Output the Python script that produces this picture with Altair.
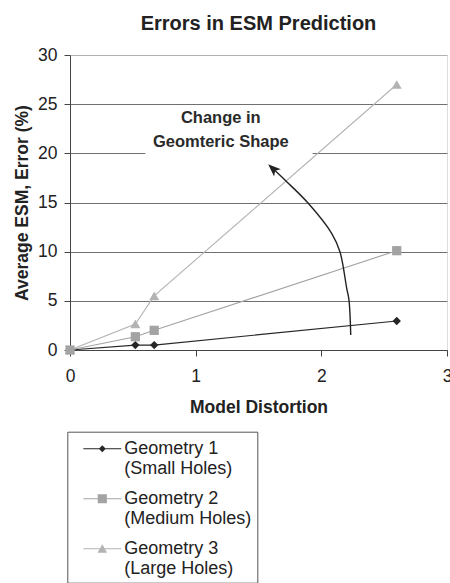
import altair as alt
import pandas as pd

# ---- data ----
distortion = [0, 0.52, 0.67, 2.6]
geom1 = [0, 0.5, 0.5, 2.95]
geom2 = [0, 1.35, 2.0, 10.1]
geom3 = [0, 2.65, 5.5, 27.0]

series_names = ["Geometry 1|(Small Holes)", "Geometry 2|(Medium Holes)", "Geometry 3|(Large Holes)"]
series_values = [geom1, geom2, geom3]
series_colors = ["#262626", "#a3a3a3", "#b3b3b3"]
marker_shapes = ["diamond", "square", "triangle-up"]
marker_sizes = [70, 85, 100]
draw_order = [0, 2, 1]

legend_symbols = [
    "M-1.58,-0.045H1.58V0.045H-1.58Z M0,-0.29L0.29,0L0,0.29L-0.29,0Z",
    "M-1.58,-0.045H1.58V0.045H-1.58Z M-0.38,-0.38H0.38V0.38H-0.38Z",
    "M-1.58,-0.045H1.58V0.045H-1.58Z M0,-0.38L0.4,0.34L-0.4,0.34Z",
]

x_ticks = [0, 1, 2, 3]
y_ticks = [0, 5, 10, 15, 20, 25, 30]

arrow_x = [2.234, 2.22, 2.202, 2.148, 2.082, 1.896, 1.724, 1.618]
arrow_y = [1.53, 5.08, 6.27, 10.0, 11.87, 14.92, 17.12, 18.4]
arrow_tip_x = [1.618]
arrow_tip_y = [18.4]

note_text = ["Change in", "Geomteric Shape"]
note_x = [1.2]
note_y = [23.55]
note_box_x = [0.6, 1.93]
note_box_y = [19.0, 24.3]

FONT = "Liberation Sans"
TXT = "#222222"

xscale = alt.Scale(domain=[0, 3], nice=False, zero=False)
yscale = alt.Scale(domain=[0, 30], nice=False, zero=False)
xaxis = alt.Axis(values=x_ticks, grid=False, labelFontSize=17.5, labelFont=FONT, labelColor=TXT,
                 titleFontSize=17.5, titleFont=FONT, titleFontWeight="bold", titleColor=TXT,
                 domainColor="#444444", tickColor="#444444", tickSize=6, labelPadding=11,
                 titlePadding=14, format="d", labelFlush=False, labelOverlap=False)
yaxis = alt.Axis(values=y_ticks, grid=True,
                 gridColor={"condition": {"test": "datum.value >= 30", "value": "#b0b0b0"}, "value": "#707070"},
                 labelFontSize=17.5, labelFont=FONT, labelColor=TXT,
                 titleFontSize=17.5, titleFont=FONT, titleFontWeight="bold", titleColor=TXT,
                 domainColor="#444444", tickColor="#444444", tickSize=6, labelPadding=7,
                 titlePadding=6, format="d", labelOverlap=False)


def X(f):
    return alt.X(f, type="quantitative", scale=xscale, axis=xaxis, title="Model Distortion")


def Y(f):
    return alt.Y(f, type="quantitative", scale=yscale, axis=yaxis, title="Average ESM, Error (%)")


layers = []

# white box behind the annotation text
box_df = pd.DataFrame({"x": [note_box_x[0]], "x2": [note_box_x[1]], "y": [note_box_y[0]], "y2": [note_box_y[1]]})
layers.append(alt.Chart(box_df).mark_rect(color="white").encode(x=X("x"), x2="x2", y=Y("y"), y2="y2"))

for i in draw_order:
    df = pd.DataFrame({"x": distortion, "y": series_values[i], "series": series_names[i]})
    layers.append(alt.Chart(df).mark_line(color=series_colors[i], strokeWidth=1.1).encode(x=X("x"), y=Y("y")))
for i in draw_order:
    df = pd.DataFrame({"x": distortion, "y": series_values[i], "series": series_names[i]})
    layers.append(alt.Chart(df).mark_point(shape=marker_shapes[i], filled=True, opacity=1,
                                           color=series_colors[i], size=marker_sizes[i])
                  .encode(x=X("x"), y=Y("y")))

# curved arrow
arrow_df = pd.DataFrame({"x": arrow_x, "y": arrow_y, "i": list(range(len(arrow_x)))})
layers.append(alt.Chart(arrow_df).mark_line(color="#222222", strokeWidth=1.4, interpolate="catmull-rom")
              .encode(x=X("x"), y=Y("y"), order="i:Q"))
tip_df = pd.DataFrame({"x": arrow_tip_x, "y": arrow_tip_y})
layers.append(alt.Chart(tip_df).mark_point(shape="M0,-1L0.7,0.8L0,0.35L-0.7,0.8Z", filled=True, opacity=1,
                                           color="#222222", size=200, angle=313)
              .encode(x=X("x"), y=Y("y")))

# annotation text
note_df = pd.DataFrame({"x": note_x, "y": note_y, "t": ["\n".join(note_text)]})
layers.append(alt.Chart(note_df).mark_text(font=FONT, fontSize=16.5, fontWeight="bold", color="#2a2a2a",
                                           lineBreak="\n", lineHeight=24, align="center", baseline="middle")
              .encode(x=X("x"), y=Y("y"), text="t:N"))

# legend source (no visible marks)
legend = alt.Legend(title=None, orient="none", legendX=-2.7, legendY=376.7, direction="vertical",
                    labelExpr="split(datum.label, '|')", labelFontSize=18, labelFont=FONT,
                    labelColor=TXT, labelLimit=400, symbolSize=576, symbolStrokeWidth=0,
                    symbolOffset=18, labelOffset=10, padding=5, rowPadding=9,
                    strokeColor="#555555", symbolOpacity=1)
leg_df = pd.DataFrame({"series": series_names})
layers.append(alt.Chart(leg_df).mark_point(filled=True).encode(
    color=alt.Color("series:N", scale=alt.Scale(domain=series_names, range=series_colors), legend=legend),
    shape=alt.Shape("series:N", scale=alt.Scale(domain=series_names, range=legend_symbols), legend=legend),
).transform_filter("false"))

chart = alt.layer(*layers).properties(
    width=377, height=295,
    autosize="none",
    padding={"left": 70, "top": 55, "right": 3, "bottom": 233},
    title=alt.TitleParams("Errors in ESM Prediction", fontSize=20, fontWeight="bold", font=FONT,
                          color=TXT, anchor="middle", offset=12),
    background="white",
).configure_view(stroke="#b0b0b0").configure(font=FONT)

chart.save("out.html", embed_options={"renderer": "svg", "actions": False})
